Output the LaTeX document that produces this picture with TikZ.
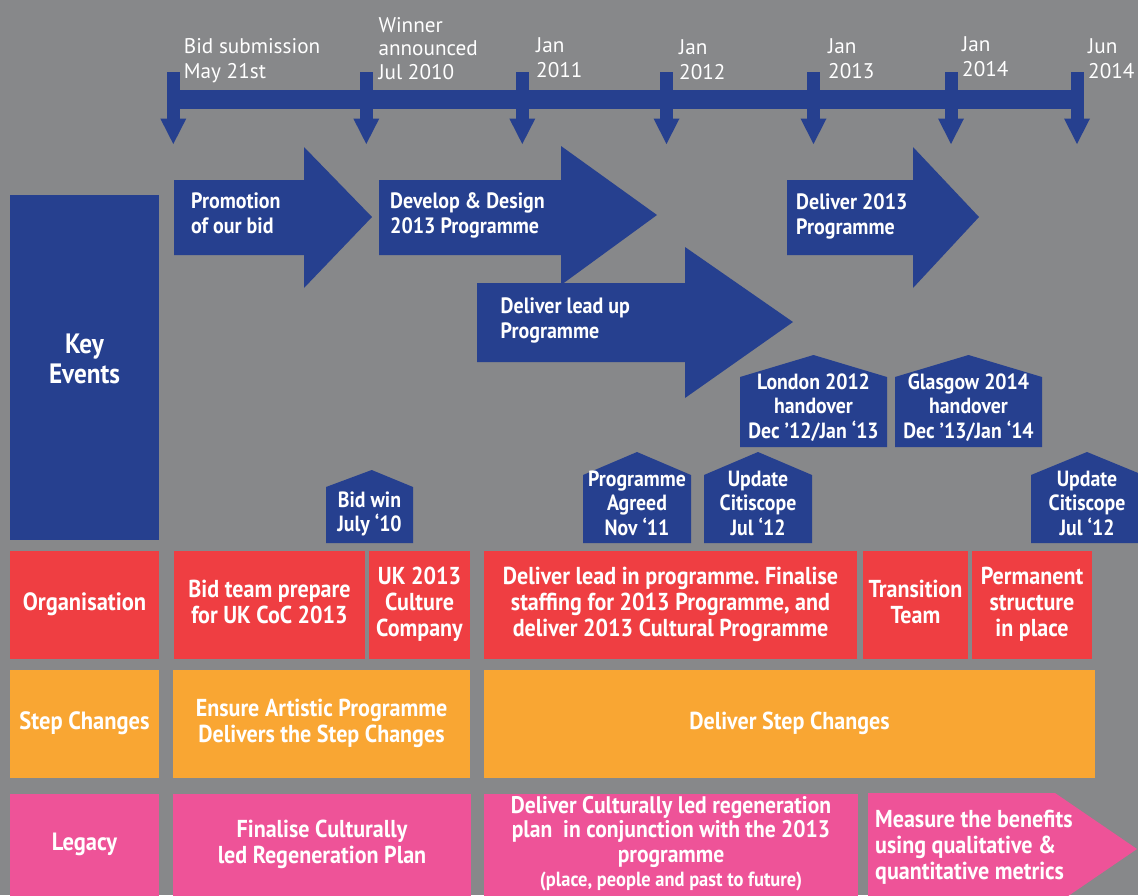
\documentclass[tikz,border=0pt]{standalone}
\usepackage{fontspec}
\setmainfont{PT Sans}
\newfontfamily\condfont{PT Sans}[FakeStretch=0.9]
\frenchspacing
\definecolor{bggray}{RGB}{135,136,138}
\definecolor{kblue}{RGB}{38,64,143}
\definecolor{kred}{RGB}{239,62,66}
\definecolor{korange}{RGB}{249,166,51}
\definecolor{kpink}{RGB}{238,83,152}
\newcommand\ctab[1]{\begin{tabular}{@{}c@{}}#1\end{tabular}}
\newcommand\ltab[1]{\begin{tabular}{@{}l@{}}#1\end{tabular}}
\tikzset{
  tllabel/.style={anchor=west, inner sep=0pt, text=white, font=\fontsize{21.2}{25}\selectfont},
  boxtext/.style={inner sep=0pt, text=white, font=\condfont\bfseries\fontsize{24.5}{26}\selectfont},
  labeltext/.style={boxtext, font=\condfont\bfseries\fontsize{25}{26}\selectfont},
  arrowtext/.style={anchor=west, inner sep=0pt, text=white, font=\condfont\bfseries\fontsize{22.2}{25}\selectfont},
  housetext/.style={inner sep=0pt, text=white, font=\condfont\bfseries\fontsize{22}{24}\selectfont},
  bluefill/.style={fill=kblue},
}
\begin{document}
\begin{tikzpicture}[x=1pt,y=-1pt]
\fill[bggray] (0,0) rectangle (1138,895);
\useasboundingbox (0,0) rectangle (1138,895);

% timeline
\fill[kblue] (166.7,90) rectangle (1083.5,109);
\foreach \c in {173.3,366.3,522.3,666.5,813.5,951,1077}{
  \fill[kblue] (\c-6.5,72) rectangle (\c+6.5,119);
  \fill[kblue] (\c-13,118.5) -- (\c+13,118.5) -- (\c,144) -- cycle;
}
\node[tllabel] (bidsub) at (183.7,60.5) {\ltab{Bid submission\\May 21st}};
\node[tllabel, font=\fontsize{21.2}{23.5}\selectfont] (winner) at (378.3,50.8) {\ltab{Winner\\announced\\Jul 2010}};
\node[tllabel] (j2011) at (536,60) {\ltab{Jan\\2011}};
\node[tllabel] (j2012) at (679,61.5) {\ltab{Jan\\2012}};
\node[tllabel] (j2013) at (828,60.5) {\ltab{Jan\\2013}};
\node[tllabel] (j2014) at (962,58.5) {\ltab{Jan\\2014}};
\node[tllabel] (jun2014) at (1088,60.5) {\ltab{Jun\\2014}};

% key events
\node[bluefill, minimum width=149pt, minimum height=345pt, inner sep=0pt] (keybox) at (84.5,367.5) {};
\node[boxtext, font=\condfont\bfseries\fontsize{28}{30}\selectfont] (keytext) at (84.5,362) {\ctab{Key\\Events}};

% big arrows
\fill[kblue] (174,180) -- (304,180) -- (304,147) -- (372,217) -- (304,288) -- (304,255) -- (174,255) -- cycle;
\node[arrowtext] (promo) at (191,215.5) {\ltab{Promotion\\of our bid}};
\fill[kblue] (379,180) -- (561,180) -- (561,146) -- (657,215) -- (561,285) -- (561,255) -- (379,255) -- cycle;
\node[arrowtext] (develop) at (390,215.5) {\ltab{Develop \& Design\\2013 Programme}};
\fill[kblue] (477,283) -- (685,283) -- (685,247) -- (793,322) -- (685,398) -- (685,362) -- (477,362) -- cycle;
\node[arrowtext] (leadup) at (500.5,321) {\ltab{Deliver lead up\\Programme}};
\fill[kblue] (787,180) -- (913,180) -- (913,147) -- (979,217) -- (913,288) -- (913,255) -- (787,255) -- cycle;
\node[arrowtext] (deliver13) at (796,217) {\ltab{Deliver 2013\\Programme}};

% houses
\fill[kblue] (326,543) -- (326,487) -- (371.7,470) -- (413,487) -- (413,543) -- cycle;
\node[housetext] (bidwin) at (369.5,514.6) {\ctab{Bid win\\July ‘10}};
\fill[kblue] (583,543) -- (583,475) -- (637,452) -- (691,475) -- (691,543) -- cycle;
\node[housetext] (progagreed) at (637,506.2) {\ctab{Programme\\Agreed\\Nov ‘11}};
\fill[kblue] (704,543) -- (704,475) -- (758,452) -- (812,475) -- (812,543) -- cycle;
\node[housetext] (citi1) at (758,506.2) {\ctab{Update\\Citiscope\\Jul ‘12}};
\fill[kblue] (740,447) -- (740,377) -- (813.5,355) -- (887,377) -- (887,447) -- cycle;
\node[housetext] (london) at (813.5,409.2) {\ctab{London 2012\\handover\\Dec ’12/Jan ‘13}};
\fill[kblue] (895,447) -- (895,377) -- (968.5,355) -- (1042,377) -- (1042,447) -- cycle;
\node[housetext] (glasgow) at (968.5,409.2) {\ctab{Glasgow 2014\\handover\\Dec ’13/Jan ‘14}};
\fill[kblue] (1031,543) -- (1031,475) -- (1087,452) -- (1143,475) -- (1143,543) -- cycle;
\node[housetext] (citi2) at (1087,506.2) {\ctab{Update\\Citiscope\\Jul ‘12}};

% organisation row
\node[labeltext, fill=kred, minimum width=149pt, minimum height=107.7pt] (orglabel) at (84.5,604.85) {\ctab{Organisation}};
\node[boxtext, fill=kred, minimum width=191pt, minimum height=107.7pt] (bidteam) at (269.5,604.85) {\ctab{Bid team prepare\\for UK CoC 2013}};
\node[boxtext, fill=kred, minimum width=101pt, minimum height=107.7pt] (ukculture) at (419.5,604.85) {\ctab{UK 2013\\Culture\\Company}};
\node[boxtext, fill=kred, minimum width=373pt, minimum height=107.7pt] (leadin) at (670.5,604.85) {\ctab{Deliver lead in programme. Finalise\\staffing for 2013 Programme, and\\deliver 2013 Cultural Programme}};
\node[boxtext, fill=kred, minimum width=105pt, minimum height=107.7pt] (transition) at (915.5,604.85) {\ctab{Transition\\Team}};
\node[boxtext, fill=kred, minimum width=120pt, minimum height=107.7pt] (permanent) at (1032,604.85) {\ctab{Permanent\\structure\\in place}};

% step changes row
\node[labeltext, fill=korange, minimum width=149pt, minimum height=108pt] (steplabel) at (84.5,724) {\ctab{Step Changes}};
\node[boxtext, fill=korange, minimum width=297pt, minimum height=108pt] (ensure) at (321.5,724) {\ctab{Ensure Artistic Programme\\Delivers the Step Changes}};
\node[boxtext, fill=korange, minimum width=611pt, minimum height=108pt] (deliversteps) at (789.5,724) {\ctab{Deliver Step Changes}};

% legacy row
\node[labeltext, fill=kpink, minimum width=149pt, minimum height=102pt] (legacylabel) at (84.5,845) {\ctab{Legacy}};
\node[boxtext, fill=kpink, minimum width=298pt, minimum height=102pt] (finalise) at (322,845) {\ctab{Finalise Culturally\\led Regeneration Plan}};
\node[boxtext, fill=kpink, minimum width=374pt, minimum height=102pt, font=\condfont\bfseries\fontsize{24}{24.5}\selectfont] (delivercult) at (671,845) {\ctab{Deliver Culturally led regeneration\\plan~ in conjunction with the 2013\\programme\\{\fontsize{20.5}{20}\selectfont(place, people and past to future)}}};
\fill[kpink] (868,793) -- (1055,793) -- (1137,849) -- (1055,905) -- (868,905) -- cycle;
\node[arrowtext, font=\condfont\bfseries\fontsize{24.5}{26}\selectfont] (measure) at (875,848.5) {\ltab{Measure the benefits\\using qualitative \&\\quantitative metrics}};
\end{tikzpicture}
\end{document}
